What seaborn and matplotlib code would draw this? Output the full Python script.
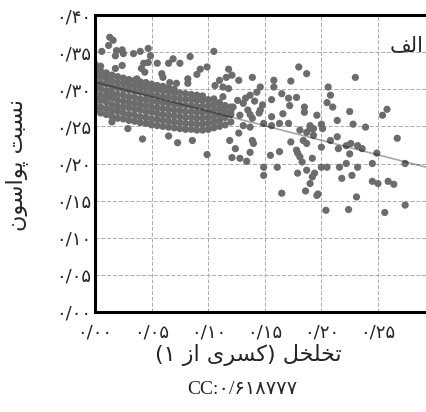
import numpy as np
import pandas as pd
import seaborn as sns
import matplotlib
matplotlib.use('Agg')
import matplotlib.pyplot as plt

# dense band of points (porosity, poisson ratio) read column by column
dense_x = (
    [0.000] * 9 + [0.005] * 9 + [0.010] * 8 + [0.015] * 8 + [0.020] * 8 +
    [0.025] * 8 + [0.030] * 8 + [0.035] * 8 + [0.040] * 8 + [0.045] * 8 +
    [0.050] * 8 + [0.055] * 8 + [0.060] * 8 + [0.065] * 8 + [0.070] * 8 +
    [0.075] * 7 + [0.080] * 7 + [0.085] * 7 + [0.090] * 7 + [0.095] * 7 +
    [0.100] * 6 + [0.105] * 6 + [0.110] * 5 + [0.115] * 4 + [0.120] * 3
)
dense_y = [
    0.272, 0.281, 0.288, 0.297, 0.304, 0.313, 0.320, 0.327, 0.334,
    0.268, 0.276, 0.285, 0.292, 0.301, 0.308, 0.317, 0.324, 0.331,
    0.266, 0.274, 0.283, 0.290, 0.298, 0.307, 0.314, 0.322,
    0.263, 0.271, 0.279, 0.288, 0.295, 0.303, 0.311, 0.319,
    0.261, 0.270, 0.277, 0.285, 0.293, 0.302, 0.309, 0.317,
    0.260, 0.268, 0.276, 0.284, 0.292, 0.300, 0.308, 0.315,
    0.258, 0.266, 0.275, 0.282, 0.290, 0.299, 0.306, 0.313,
    0.257, 0.265, 0.273, 0.281, 0.289, 0.297, 0.305, 0.312,
    0.255, 0.263, 0.272, 0.279, 0.287, 0.296, 0.303, 0.310,
    0.254, 0.262, 0.270, 0.278, 0.286, 0.294, 0.302, 0.309,
    0.252, 0.260, 0.269, 0.276, 0.284, 0.292, 0.300, 0.307,
    0.251, 0.259, 0.267, 0.275, 0.283, 0.291, 0.299, 0.305,
    0.250, 0.258, 0.266, 0.274, 0.282, 0.290, 0.298, 0.304,
    0.249, 0.257, 0.265, 0.273, 0.281, 0.289, 0.297, 0.302,
    0.248, 0.256, 0.264, 0.272, 0.280, 0.288, 0.295, 0.300,
    0.247, 0.255, 0.263, 0.271, 0.279, 0.287, 0.295,
    0.246, 0.254, 0.262, 0.270, 0.278, 0.286, 0.294,
    0.246, 0.254, 0.262, 0.270, 0.278, 0.286, 0.293,
    0.245, 0.253, 0.261, 0.269, 0.277, 0.285, 0.292,
    0.245, 0.253, 0.261, 0.269, 0.277, 0.285, 0.291,
    0.246, 0.254, 0.262, 0.270, 0.278, 0.286,
    0.248, 0.256, 0.264, 0.272, 0.280, 0.287,
    0.250, 0.258, 0.266, 0.274, 0.282,
    0.252, 0.262, 0.270, 0.278,
    0.256, 0.266, 0.276,
]

# scattered points outside the band
sparse_x = [
    0.013, 0.016, 0.012, 0.006, 0.019, 0.024, 0.025, 0.018, 0.034, 0.040,
    0.047, 0.049, 0.069, 0.084, 0.043, 0.041, 0.047, 0.055, 0.065, 0.024,
    0.018, 0.059, 0.060, 0.037, 0.066, 0.072, 0.082, 0.082, 0.093, 0.099,
    0.075, 0.090, 0.044, 0.028,
    0.015, 0.029, 0.042, 0.065, 0.073, 0.086, 0.099,
    0.105, 0.118, 0.121, 0.110, 0.116, 0.127, 0.139, 0.106, 0.113, 0.118,
    0.146, 0.143, 0.137, 0.158, 0.158, 0.173, 0.180, 0.187, 0.165, 0.156,
    0.171, 0.178, 0.172, 0.185, 0.185, 0.196, 0.156, 0.163, 0.149, 0.122,
    0.131, 0.128, 0.139, 0.190, 0.126, 0.133, 0.141, 0.148, 0.135, 0.145,
    0.120, 0.113,
    0.137, 0.146, 0.166, 0.171, 0.181, 0.187, 0.193, 0.131, 0.137, 0.156,
    0.119, 0.127, 0.139, 0.140, 0.137, 0.124, 0.121, 0.128, 0.134, 0.155,
    0.163, 0.149, 0.149, 0.161, 0.165, 0.178, 0.181, 0.184, 0.187, 0.183,
    0.179, 0.187, 0.190, 0.186, 0.196, 0.179, 0.173,
    0.230, 0.206, 0.208, 0.205, 0.210, 0.225, 0.214, 0.228, 0.239, 0.200,
    0.258, 0.254,
    0.201, 0.193, 0.190, 0.214, 0.208, 0.267, 0.200, 0.215, 0.222, 0.226,
    0.232, 0.236, 0.225, 0.192, 0.249, 0.222, 0.216, 0.200, 0.205, 0.245,
    0.232, 0.274, 0.194, 0.192, 0.218, 0.227, 0.245, 0.250, 0.259, 0.264,
    0.197, 0.231, 0.274, 0.204, 0.224, 0.256,
]
sparse_y = [
    0.370, 0.366, 0.359, 0.351, 0.352, 0.353, 0.348, 0.345, 0.348, 0.351,
    0.355, 0.345, 0.341, 0.344, 0.335, 0.328, 0.336, 0.335, 0.335, 0.332,
    0.328, 0.321, 0.316, 0.314, 0.309, 0.308, 0.314, 0.308, 0.327, 0.330,
    0.335, 0.320, 0.323, 0.312,
    0.256, 0.247, 0.233, 0.237, 0.228, 0.231, 0.212,
    0.351, 0.327, 0.319, 0.312, 0.316, 0.312, 0.316, 0.305, 0.303, 0.301,
    0.303, 0.296, 0.292, 0.312, 0.303, 0.311, 0.330, 0.321, 0.294, 0.286,
    0.288, 0.289, 0.278, 0.276, 0.269, 0.265, 0.263, 0.254, 0.254, 0.276,
    0.281, 0.265, 0.261, 0.251, 0.285, 0.288, 0.284, 0.279, 0.272, 0.268,
    0.270, 0.290,
    0.266, 0.272, 0.267, 0.254, 0.245, 0.242, 0.247, 0.251, 0.249, 0.251,
    0.231, 0.241, 0.231, 0.227, 0.215, 0.220, 0.208, 0.207, 0.203, 0.211,
    0.216, 0.195, 0.184, 0.195, 0.160, 0.218, 0.209, 0.231, 0.227, 0.202,
    0.187, 0.191, 0.173, 0.163, 0.157, 0.214, 0.229,
    0.316, 0.303, 0.292, 0.282, 0.276, 0.270, 0.258, 0.253, 0.249, 0.253,
    0.273, 0.265,
    0.247, 0.238, 0.247, 0.236, 0.231, 0.234, 0.222, 0.220, 0.224, 0.227,
    0.224, 0.220, 0.213, 0.207, 0.214, 0.200, 0.195, 0.195, 0.195, 0.200,
    0.195, 0.200, 0.187, 0.182, 0.180, 0.184, 0.176, 0.173, 0.176, 0.172,
    0.159, 0.155, 0.144, 0.137, 0.138, 0.134,
]

x_ticks = [0.00, 0.05, 0.10, 0.15, 0.20, 0.25]
x_labels = ['۰/۰۰', '۰/۰۵', '۰/۱۰', '۰/۱۵', '۰/۲۰', '۰/۲۵']
y_ticks = [0.00, 0.05, 0.10, 0.15, 0.20, 0.25, 0.30, 0.35, 0.40]
y_labels = ['۰/۰۰', '۰/۰۵', '۰/۱۰', '۰/۱۵', '۰/۲۰', '۰/۲۵', '۰/۳۰', '۰/۳۵', '۰/۴۰']

x_title = 'تخلخل (کسری از ۱)'
y_title = 'نسبت پواسون'
panel_tag = 'الف'
cc_text = 'CC:۰/۶۱۸۷۷۷'

#%% matplotlib has no arabic shaping, so pick presentation forms by hand
FORMS = {
    'ا': ('\uFE8D', '\uFE8E'),
    'ب': ('\uFE8F', '\uFE90', '\uFE91', '\uFE92'),
    'پ': ('\uFB56', '\uFB57', '\uFB58', '\uFB59'),
    'ت': ('\uFE95', '\uFE96', '\uFE97', '\uFE98'),
    'خ': ('\uFEA5', '\uFEA6', '\uFEA7', '\uFEA8'),
    'ر': ('\uFEAD', '\uFEAE'),
    'ز': ('\uFEAF', '\uFEB0'),
    'س': ('\uFEB1', '\uFEB2', '\uFEB3', '\uFEB4'),
    'ف': ('\uFED1', '\uFED2', '\uFED3', '\uFED4'),
    'ک': ('\uFB8E', '\uFB8F', '\uFB90', '\uFB91'),
    'ل': ('\uFEDD', '\uFEDE', '\uFEDF', '\uFEE0'),
    'ن': ('\uFEE5', '\uFEE6', '\uFEE7', '\uFEE8'),
    'و': ('\uFEED', '\uFEEE'),
    'ی': ('\uFBFC', '\uFBFD', '\uFBFE', '\uFBFF'),
}


def shape(text):
    out = []
    for i, ch in enumerate(text):
        if ch not in FORMS:
            out.append(ch)
            continue
        prev = text[i - 1] if i > 0 else ''
        nxt = text[i + 1] if i + 1 < len(text) else ''
        join_prev = prev in FORMS and len(FORMS[prev]) == 4
        join_next = nxt in FORMS and len(FORMS[ch]) == 4
        f = FORMS[ch]
        if join_prev and join_next:
            out.append(f[3])
        elif join_next:
            out.append(f[2])
        elif join_prev:
            out.append(f[1])
        else:
            out.append(f[0])
    vis = ''.join(reversed(out))
    return vis.translate(str.maketrans('()', ')('))


#%%
df = pd.DataFrame({
    'porosity': dense_x + sparse_x,
    'poisson': dense_y + sparse_y,
})

sns.set_style('white')
plt.rcParams['font.family'] = ['DejaVu Sans']

fig = plt.figure(figsize=(4.27, 4.12), dpi=100)
ax = fig.add_axes([95 / 427, 100 / 412, 332 / 427, 297 / 412])
ax.set_xlim(0, 0.2933)
ax.set_ylim(0, 0.40)

sns.scatterplot(data=df, x='porosity', y='poisson', color='#6c6c6c', s=27,
                edgecolor='none', linewidth=0, ax=ax, zorder=2)
sns.regplot(data=df, x='porosity', y='poisson', scatter=False, ci=None,
            truncate=False, ax=ax,
            line_kws=dict(color='black', alpha=0.35, lw=1.2, zorder=3))

ax.set_xticks(x_ticks, x_labels, fontsize=13)
ax.set_yticks(y_ticks, y_labels, fontsize=13)
ax.tick_params(length=0, pad=3)
ax.tick_params(axis='x', pad=8)
ax.grid(True, color='#ababab', ls=(0, (4, 2)), lw=0.7)
ax.set_axisbelow(True)

ax.spines['right'].set_visible(False)
for s in ['left', 'top', 'bottom']:
    ax.spines[s].set_linewidth(2.2)
    ax.spines[s].set_color('black')

ax.set_xlabel('')
ax.set_ylabel('')
fig.text(248 / 427, 1 - 355 / 412, shape(x_title), ha='center', va='center', fontsize=16)
fig.text(242 / 427, 1 - 390 / 412, cc_text, ha='center', va='center', fontsize=14,
         family=['Liberation Serif', 'DejaVu Sans'])
fig.text(17 / 427, 1 - 165 / 412, shape(y_title), ha='center', va='center',
         rotation=90, fontsize=16)
ax.text(0.94, 0.90, shape(panel_tag), transform=ax.transAxes, ha='center',
        va='center', fontsize=15)

fig.savefig('out.png', dpi=100)
